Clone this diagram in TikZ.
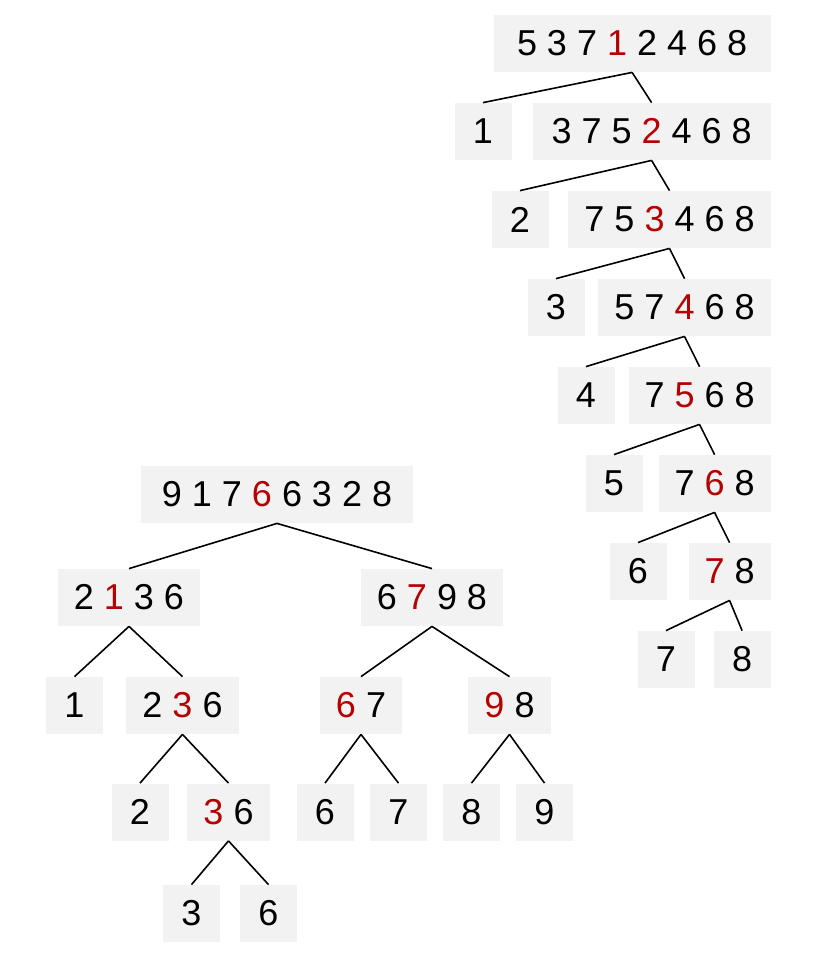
\documentclass[tikz,border=0pt]{standalone}
\usepackage{fontspec}
\setmainfont{Liberation Sans}
\usepackage{xcolor}
\usepackage{tikz}
\usetikzlibrary{positioning}

\definecolor{boxgray}{HTML}{F2F2F3}
\definecolor{pivred}{HTML}{B30000}
\newcommand{\piv}[1]{\textcolor{pivred}{#1}}

\begin{document}
\begin{tikzpicture}[
  x=0.5pt, y=-0.5pt,
  font=\fontsize{18}{18}\selectfont,
  numbox/.style={fill=boxgray, minimum width=28.5pt, minimum height=28.5pt, inner xsep=8pt, inner ysep=0pt},
  conn/.style={draw=black, line width=0.8pt}
]
  \useasboundingbox (0,0) rectangle (820,955);

  % Desno stablo: najgori slucaj, pivot je uvijek najmanji
  \node[numbox, anchor=east, minimum width=138.5pt] (r0) at (771, 43.5) {5 3 7 \piv{1} 2 4 6 8};
  \node[numbox] (r1a) at (483, 131.5) {1};
  \node[numbox, anchor=east, minimum width=119pt] (r1b) at (771, 131.5) {3 7 5 \piv{2} 4 6 8};
  \node[numbox] (r2a) at (520, 219.5) {2};
  \node[numbox, anchor=east] (r2b) at (771, 219.5) {7 5 \piv{3} 4 6 8};
  \node[numbox] (r3a) at (556, 307.5) {3};
  \node[numbox, anchor=east] (r3b) at (771, 307.5) {5 7 \piv{4} 6 8};
  \node[numbox] (r4a) at (586, 395.5) {4};
  \node[numbox, anchor=east] (r4b) at (771, 395.5) {7 \piv{5} 6 8};
  \node[numbox] (r5a) at (614, 483.5) {5};
  \node[numbox, anchor=east] (r5b) at (771, 483.5) {7 \piv{6} 8};
  \node[numbox] (r6a) at (638, 571.5) {6};
  \node[numbox, anchor=east] (r6b) at (771, 571.5) {\piv{7} 8};
  \node[numbox] (r7a) at (666, 659.5) {7};
  \node[numbox, anchor=east] (r7b) at (771, 659.5) {8};

  % Lijevo stablo: pivot dijeli niz na pola
  \node[numbox, minimum width=136pt] (q0) at (277, 494.5) {9 1 7 \piv{6} 6 3 2 8};
  \node[numbox] (q1l) at (129, 597.5) {2 \piv{1} 3 6};
  \node[numbox] (q1r) at (432, 597.5) {6 \piv{7} 9 8};
  \node[numbox] (q2a) at (74.5, 705.5) {1};
  \node[numbox] (q2b) at (182.5, 705.5) {2 \piv{3} 6};
  \node[numbox] (q2c) at (361, 705.5) {\piv{6} 7};
  \node[numbox] (q2d) at (509.5, 705.5) {\piv{9} 8};
  \node[numbox] (q3a) at (140, 812) {2};
  \node[numbox] (q3b) at (228.5, 812) {\piv{3} 6};
  \node[numbox] (q3c) at (325, 812) {6};
  \node[numbox] (q3d) at (398.5, 812) {7};
  \node[numbox] (q3e) at (471.5, 812) {8};
  \node[numbox] (q3f) at (544.5, 812) {9};
  \node[numbox] (q4a) at (191.5, 913.5) {3};
  \node[numbox] (q4b) at (268.5, 913.5) {6};

  % Poveznice desno
  \draw[conn] (r0.south) -- (r1a.north);
  \draw[conn] (r0.south) -- (r1b.north);
  \draw[conn] (r1b.south) -- (r2a.north);
  \draw[conn] (r1b.south) -- (r2b.north);
  \draw[conn] (r2b.south) -- (r3a.north);
  \draw[conn] (r2b.south) -- (r3b.north);
  \draw[conn] (r3b.south) -- (r4a.north);
  \draw[conn] (r3b.south) -- (r4b.north);
  \draw[conn] (r4b.south) -- (r5a.north);
  \draw[conn] (r4b.south) -- (r5b.north);
  \draw[conn] (r5b.south) -- (r6a.north);
  \draw[conn] (r5b.south) -- (r6b.north);
  \draw[conn] (r6b.south) -- (r7a.north);
  \draw[conn] (r6b.south) -- (r7b.north);

  % Poveznice lijevo
  \draw[conn] (q0.south) -- (q1l.north);
  \draw[conn] (q0.south) -- (q1r.north);
  \draw[conn] (q1l.south) -- (q2a.north);
  \draw[conn] (q1l.south) -- (q2b.north);
  \draw[conn] (q1r.south) -- (q2c.north);
  \draw[conn] (q1r.south) -- (q2d.north);
  \draw[conn] (q2b.south) -- (q3a.north);
  \draw[conn] (q2b.south) -- (q3b.north);
  \draw[conn] (q2c.south) -- (q3c.north);
  \draw[conn] (q2c.south) -- (q3d.north);
  \draw[conn] (q2d.south) -- (q3e.north);
  \draw[conn] (q2d.south) -- (q3f.north);
  \draw[conn] (q3b.south) -- (q4a.north);
  \draw[conn] (q3b.south) -- (q4b.north);
\end{tikzpicture}
\end{document}
